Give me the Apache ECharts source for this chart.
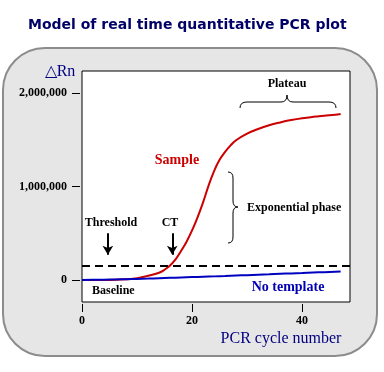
<!DOCTYPE html>
<html>
<head>
<meta charset="utf-8">
<script src="https://cdn.jsdelivr.net/npm/echarts@6/dist/echarts.min.js"></script>
<style>
html,body{margin:0;padding:0;background:#fff;}
#chart{width:384px;height:372px;}
</style>
</head>
<body>
<div id="chart"></div>
<script>
// ---- data ----
var sampleCycles = [0,2,4,6,8,10,12,14,15,16,17,18,19,20,21,22,23,24,25,26,27,28,30,32,34,36,38,40,42,44,46,47];
var sampleValues = [0,0,0,2000,8000,20000,45000,78000,110000,155000,220000,310000,410000,530000,670000,830000,1010000,1165000,1285000,1370000,1440000,1495000,1565000,1615000,1655000,1685000,1710000,1730000,1745000,1757000,1768000,1775000];
var noTemplateCycles = [0,2,4,6,8,10,12,14,16,18,20,22,24,26,28,30,32,34,36,38,40,42,44,46,47];
var noTemplateValues = [0,2000,4000,6000,9000,12000,15000,19000,23000,27000,31000,35000,39000,43000,48000,52000,57000,61000,66000,71000,75000,80000,84000,88000,90000];
var yTicks = [0, 1000000, 2000000];
var yTickLabels = ['0', '1,000,000', '2,000,000'];
var xTicks = [0, 20, 40];
var thresholdValue = 150000;
var arrowCycles = [4.7, 16.4];      // Threshold arrow, CT arrow
var arrowRange = [500000, 270000];  // arrow start / tip values

var serif = '"Liberation Serif", "Times New Roman", serif';

function pairs(xs, ys) { return xs.map(function (x, i) { return [x, ys[i]]; }); }

// brace pieces: quadratic curves and straight lines
function q(x1, y1, cx, cy, x2, y2) {
  return {type: 'bezierCurve', silent: true, z: 10,
    shape: {x1: x1, y1: y1, cpx1: cx, cpy1: cy, x2: x2, y2: y2},
    style: {fill: null, stroke: '#000', lineWidth: 1}};
}
function l(x1, y1, x2, y2) {
  return {type: 'line', silent: true, z: 10,
    shape: {x1: x1, y1: y1, x2: x2, y2: y2},
    style: {stroke: '#000', lineWidth: 1}};
}
function txt(t, x, y, font, color, align) {
  return {type: 'text', x: x, y: y, silent: true, z: 10,
    style: {text: t, font: font, fill: color, align: align || 'center', verticalAlign: 'middle'}};
}

var chart = echarts.init(document.getElementById('chart'), null, {renderer: 'canvas'});

var graphics = [
  {
    type: 'rect', z: -100, silent: true,
    shape: {x: 3, y: 48, width: 374, height: 308, r: 42},
    style: {fill: '#e6e6e6', stroke: '#8c8c8c', lineWidth: 2}
  },
  txt('△Rn', 60, 72, '16px ' + serif, '#000080'),
  txt('PCR cycle number', 281, 339, '16px ' + serif, '#000080'),
  txt('Plateau', 287, 84, 'bold 12px ' + serif, '#000'),
  txt('Sample', 177, 160, 'bold 14px ' + serif, '#cc0000'),
  txt('Exponential phase', 247, 208, 'bold 12px ' + serif, '#000', 'left'),
  txt('Threshold', 111, 223, 'bold 12px ' + serif, '#000'),
  txt('CT', 170, 223, 'bold 12px ' + serif, '#000'),
  txt('Baseline', 92, 291, 'bold 12px ' + serif, '#000', 'left'),
  txt('No template', 288, 287, 'bold 14px ' + serif, '#0000b4'),
  // plateau brace (points up)
  q(240, 108, 240, 102, 247, 102), l(247, 102, 281, 102), q(281, 102, 287, 102, 287, 95),
  q(287, 95, 287, 102, 293, 102), l(293, 102, 329, 102), q(329, 102, 336, 102, 336, 108),
  // exponential phase brace (points right)
  q(228, 172, 233, 172, 233, 178), l(233, 178, 233, 201), q(233, 201, 233, 207, 238, 207),
  q(238, 207, 233, 207, 233, 213), l(233, 213, 233, 237), q(233, 237, 233, 243, 228, 243)
];

var option = {
  animation: false,
  backgroundColor: '#ffffff',
  title: {
    text: 'Model of real time quantitative PCR plot',
    left: 28,
    top: 18,
    padding: 0,
    textStyle: {fontFamily: '"DejaVu Sans", Verdana, sans-serif', fontWeight: 'bold', fontSize: 14, color: '#000066'}
  },
  grid: {
    left: 82, top: 71, right: 34, bottom: 70,
    show: true, backgroundColor: '#ffffff', borderColor: '#000000', borderWidth: 1
  },
  xAxis: {
    type: 'value', min: 0, max: 48.7, offset: 2,
    axisLine: {show: false, onZero: false},
    splitLine: {show: false},
    axisTick: {show: true, length: 8, customValues: xTicks, lineStyle: {color: '#000', width: 1}},
    axisLabel: {customValues: xTicks, margin: 11, color: '#000', fontFamily: serif, fontWeight: 'bold', fontSize: 12}
  },
  yAxis: {
    type: 'value', min: -235000, max: 2235000, offset: 2,
    axisLine: {show: false, onZero: false},
    splitLine: {show: false},
    axisTick: {show: true, length: 8, customValues: yTicks, lineStyle: {color: '#000', width: 1}},
    axisLabel: {
      customValues: yTicks, margin: 13, color: '#000', fontFamily: serif, fontWeight: 'bold', fontSize: 12,
      formatter: function (v) { var i = yTicks.indexOf(v); return i >= 0 ? yTickLabels[i] : ''; }
    }
  },
  series: [
    {
      name: 'Sample', type: 'line', smooth: 0.4, symbol: 'none', silent: true,
      lineStyle: {color: '#cc0000', width: 2},
      data: pairs(sampleCycles, sampleValues),
      z: 2
    },
    {
      name: 'No template', type: 'line', smooth: true, symbol: 'none', silent: true,
      lineStyle: {color: '#0000c0', width: 2},
      data: pairs(noTemplateCycles, noTemplateValues),
      z: 3,
      markLine: {
        silent: true, animation: false,
        symbol: ['none', 'none'],
        label: {show: false},
        lineStyle: {color: '#000', width: 2, type: [8, 5]},
        data: [
          {yAxis: thresholdValue},
          [
            {coord: [arrowCycles[0], arrowRange[0]], symbol: 'none', lineStyle: {type: 'solid', width: 2, color: '#000'}},
            {coord: [arrowCycles[0], arrowRange[1]], symbol: 'arrow', symbolSize: [8, 9]}
          ],
          [
            {coord: [arrowCycles[1], arrowRange[0]], symbol: 'none', lineStyle: {type: 'solid', width: 2, color: '#000'}},
            {coord: [arrowCycles[1], arrowRange[1]], symbol: 'arrow', symbolSize: [8, 9]}
          ]
        ]
      }
    }
  ],
  graphic: graphics
};

chart.setOption(option);
</script>
</body>
</html>
